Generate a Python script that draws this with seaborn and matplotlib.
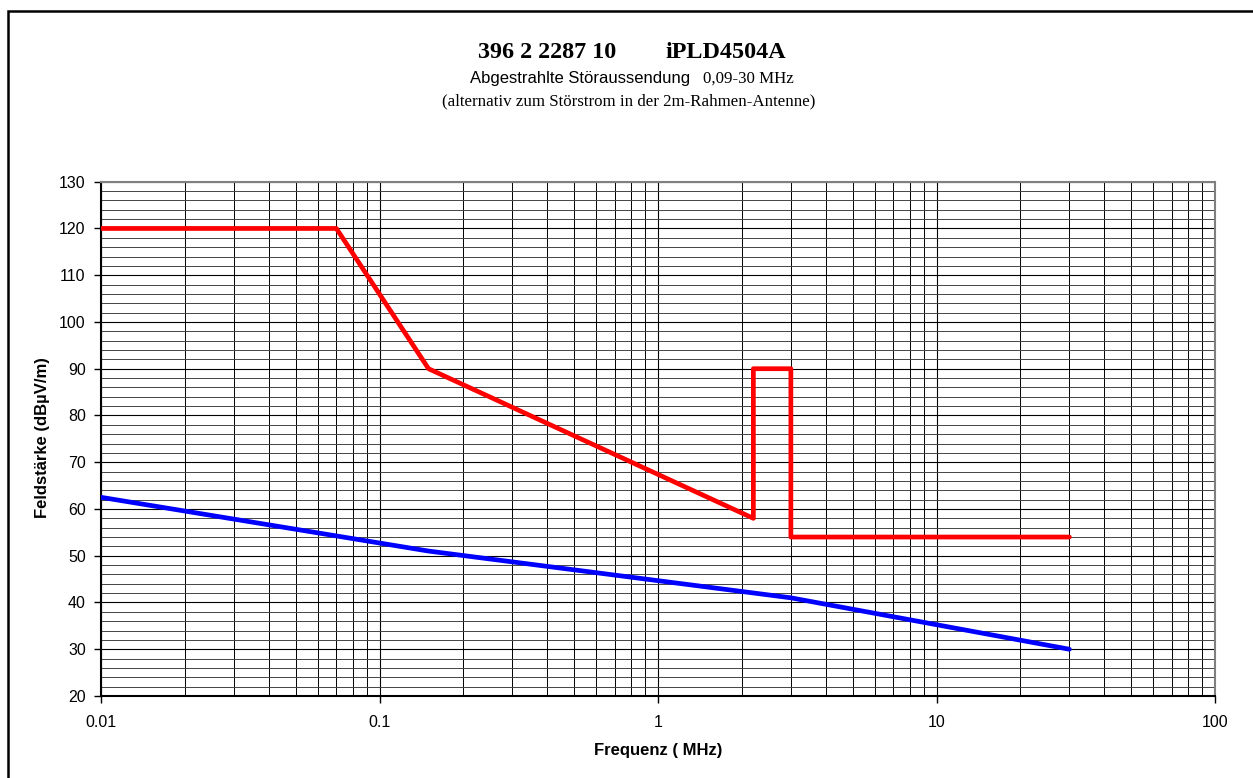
import numpy as np
import pandas as pd
import matplotlib
matplotlib.use("Agg")
import matplotlib.pyplot as plt
import matplotlib.ticker as mticker
from matplotlib.patches import Rectangle
import seaborn as sns

# Grenzwertkurven (Frequenz in MHz, Feldstaerke in dBuV/m)
limit_freq = [0.01, 0.07, 0.15, 2.2, 2.2, 3.0, 3.0, 30.0]
limit_level = [120, 120, 90, 58, 90, 90, 54, 54]

meas_freq = [0.01, 0.15, 3.0, 30.0]
meas_level = [62.5, 51.0, 41.0, 30.0]

x_ticks = [0.01, 0.1, 1, 10, 100]
x_ticklabels = ["0.01", "0.1", "1", "10", "100"]
y_ticks = list(range(20, 131, 10))

title_left = "396 2 2287 10"
title_right = "iPLD4504A"
sub_sans = "Abgestrahlte Störaussendung"
sub_serif = "0,09-30 MHz"
sub_line3 = "(alternativ zum Störstrom in der 2m-Rahmen-Antenne)"

sns.set_style("white")
plt.rcParams['font.family'] = ['Liberation Sans', 'DejaVu Sans']
plt.rcParams['text.color'] = 'black'
plt.rcParams['axes.labelcolor'] = 'black'

W, H = 1253, 778
fig = plt.figure(figsize=(W / 100, H / 100), dpi=100)
ax = fig.add_axes([101 / W, 1 - 696 / H, (1215 - 101) / W, (696 - 181.7) / H])

df_limit = pd.DataFrame({"f": limit_freq, "dB": limit_level})
df_meas = pd.DataFrame({"f": meas_freq, "dB": meas_level})

sns.lineplot(data=df_limit, x="f", y="dB", sort=False, estimator=None,
             color="#ff0000", linewidth=3.4, ax=ax, zorder=5)
sns.lineplot(data=df_meas, x="f", y="dB", sort=False, estimator=None,
             color="#0000ff", linewidth=3.4, ax=ax, zorder=5)

ax.set_xscale("log")
ax.set_xlim(0.01, 100)
ax.set_ylim(20, 130)
ax.set_xticks(x_ticks)
ax.set_xticklabels(x_ticklabels)
ax.xaxis.set_minor_locator(mticker.LogLocator(base=10, subs=np.arange(2, 10)))
ax.xaxis.set_minor_formatter(mticker.NullFormatter())
ax.set_yticks(y_ticks)
ax.yaxis.set_minor_locator(mticker.MultipleLocator(2))

ax.grid(which="major", axis="both", color="black", linewidth=0.8)
ax.grid(which="minor", axis="x", color="black", linewidth=0.7)
ax.grid(which="minor", axis="y", color="#444444", linewidth=0.7)
ax.set_axisbelow(True)

ax.tick_params(axis="both", which="major", direction="out", length=5, width=1,
               color="black", labelsize=11.5, labelcolor="black", left=True, bottom=True)
ax.tick_params(axis="x", which="major", pad=9)
ax.tick_params(axis="y", which="major", pad=6)
ax.tick_params(which="minor", length=0)

for side in ["left", "bottom"]:
    ax.spines[side].set_color("black")
    ax.spines[side].set_linewidth(1.5)
for side in ["top", "right"]:
    ax.spines[side].set_color("#808080")
    ax.spines[side].set_linewidth(1.5)

ax.set_xlabel("")
ax.set_ylabel("")
fig.text(658 / W, 1 - 750 / H, "Frequenz ( MHz)", ha="center", va="center",
         fontsize=12, fontweight="bold", color="black")
fig.text(43 / W, 1 - 438 / H, "Feldstärke (dBµV/m)", ha="center", va="center",
         rotation=90, fontsize=12, fontweight="bold", color="black")

# Titelzeilen
serif = ['Liberation Serif', 'DejaVu Serif']
fig.text(478 / W, 1 - 53 / H, title_left, ha="left", va="center",
         fontsize=17.4, fontweight="bold", family=serif, color="black")
fig.text(665 / W, 1 - 53 / H, title_right, ha="left", va="center",
         fontsize=17.4, fontweight="bold", family=serif, color="black")
fig.text(690 / W, 1 - 79 / H, sub_sans, ha="right", va="center", fontsize=12,
         color="black")
fig.text(703 / W, 1 - 79 / H, sub_serif, ha="left", va="center",
         fontsize=12.2, family=serif, color="black")
fig.text(629 / W, 1 - 101 / H, sub_line3, ha="center", va="center",
         fontsize=12.2, family=serif, color="black")

# Rahmen um das Diagramm (rechts/unten abgeschnitten)
fig.patches.append(Rectangle((8 / W, -0.05), 1.2, 1 - 11 / H + 0.05,
                             transform=fig.transFigure, fill=False,
                             edgecolor="black", linewidth=1.8))

fig.savefig("out.png", dpi=100)
